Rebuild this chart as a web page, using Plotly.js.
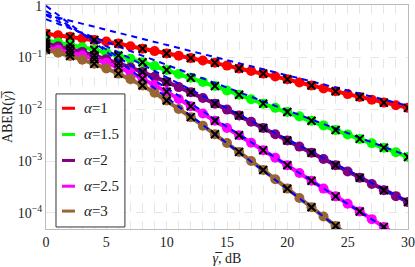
<!DOCTYPE html>
<html>
<head>
<meta charset="utf-8">
<script src="https://cdn.plot.ly/plotly-3.0.1.min.js"></script>
<style>html,body{margin:0;padding:0;background:#fff;}#chart{width:415px;height:267px;}</style>
</head>
<body>
<div id="chart"></div>
<script>
// SNR in dB
const snr = [0,1,2,3,4,5,6,7,8,9,10,11,12,13,14,15,16,17,18,19,20,21,22,23,24,25,26,27,28,29,30];
const snrEven = [0,2,4,6,8,10,12,14,16,18,20,22,24,26,28,30];
const snrAsym = [0,30];

const alphaLabels = ["1","1.5","2","2.5","3"];
const yTickVals = [0.0001, 0.001, 0.01, 0.1, 1];
const yTickText = ["10<sup>−4</sup>", "10<sup>−3</sup>", "10<sup>−2</sup>", "10<sup>−1</sup>", "1"];

const aber_a1 = [0.2884,0.2692,0.2512,0.2344,0.2188,0.2042,0.1862,0.1660,0.1479,0.1334,0.1202,0.1084,0.0977,0.0881,0.0794,0.0700,0.0617,0.0550,0.0490,0.0432,0.0380,0.0331,0.0288,0.0254,0.0224,0.0197,0.0174,0.0153,0.0135,0.0120,0.0107];
const aber_a15 = [0.2138,0.1950,0.1778,0.1585,0.1413,0.1245,0.1096,0.0944,0.0813,0.0684,0.0575,0.0484,0.0407,0.0339,0.0282,0.0232,0.0191,0.0157,0.0129,0.0107,0.00891,0.00733,0.00603,0.00490,0.00398,0.00327,0.00269,0.00221,0.00182,0.00148,0.00120];
const aber_a2 = [0.1862,0.1660,0.1479,0.1288,0.1096,0.0933,0.0776,0.0646,0.0525,0.0427,0.0339,0.0269,0.0214,0.0166,0.0129,0.00989,0.00759,0.00575,0.00437,0.00331,0.00251,0.00191,0.00145,0.00110,0.000832,0.000631,0.000479,0.000363,0.000275,0.000211,0.000162];
const aber_a25 = [0.1585,0.1413,0.1259,0.1096,0.0933,0.0794,0.0646,0.0513,0.0389,0.0295,0.0219,0.0158,0.0115,0.00832,0.00603,0.00437,0.00316,0.00226,0.00162,0.00116,0.000832,0.000589,0.000417,0.000295,0.000209,0.000150,0.000107,0.0000759,0.0000537,0.0000380,0.0000269];
const aber_a3 = [0.1413,0.1245,0.1072,0.0912,0.0759,0.0617,0.0490,0.0380,0.0288,0.0209,0.0148,0.0102,0.00708,0.00484,0.00331,0.00224,0.00151,0.00101,0.000676,0.000447,0.000295,0.000195,0.000129,0.0000851,0.0000562,0.0000372,0.0000245,0.0000162,0.0000107,0.00000708,0.00000468];

// asymptotic (high-SNR) approximations at 0 dB and 30 dB
const asym_a1 = [0.676, 0.01175];
const asym_a15 = [0.550, 0.00126];
const asym_a2 = [0.661, 0.000166];
const asym_a25 = [0.794, 0.0000269];
const asym_a3 = [1.0, 0.0000049];

const series = [aber_a1, aber_a15, aber_a2, aber_a25, aber_a3];
const asyms = [asym_a1, asym_a15, asym_a2, asym_a25, asym_a3];
const colors = ["#ff0000", "#00ff00", "#800080", "#ff00ff", "#996633"];

const traces = [];
series.forEach((s, i) => {
  traces.push({x: snr, y: s, mode: "lines+markers", showlegend: false,
    line: {color: colors[i], width: 4}, marker: {color: colors[i], size: 10, symbol: "circle"}});
});
asyms.forEach((a) => {
  traces.push({x: snrAsym, y: a, mode: "lines", showlegend: false,
    line: {color: "#0000ff", width: 2, dash: "6px,5px"}});
});
series.forEach((s) => {
  const ys = snrEven.map(v => s[snr.indexOf(v)]);
  traces.push({x: snrEven, y: ys, mode: "markers", showlegend: false,
    marker: {symbol: "x-thin", size: 8, line: {color: "#000", width: 2}}});
});

const serif = "Liberation Serif";

// legend box drawn in paper coordinates
const legX0 = 0.0276, legX1 = 0.218, legY0 = 0.009, legY1 = 0.603;
const legLineX0 = 0.0442, legLineX1 = 0.0801, legTextX = 0.0994;
const legRows = [0.539, 0.422, 0.306, 0.191, 0.080];

const shapes = [{type: "rect", xref: "paper", yref: "paper", x0: legX0, x1: legX1, y0: legY0, y1: legY1,
  line: {color: "#333", width: 1}, fillcolor: "#fff", layer: "above"}];
const annotations = [];
alphaLabels.forEach((lab, i) => {
  shapes.push({type: "line", xref: "paper", yref: "paper", x0: legLineX0, x1: legLineX1,
    y0: legRows[i], y1: legRows[i], line: {color: colors[i], width: 3}, layer: "above"});
  annotations.push({xref: "paper", yref: "paper", x: legTextX, y: legRows[i], xanchor: "left", yanchor: "middle",
    text: "<i>α</i>=" + lab, showarrow: false, font: {family: serif, size: 15, color: "#222"}});
});

const layout = {
  width: 415, height: 267,
  margin: {l: 46, r: 7, t: 5, b: 38},
  paper_bgcolor: "#fff", plot_bgcolor: "#fff",
  font: {family: serif, size: 13, color: "#222"},
  xaxis: {range: [0, 30], dtick: 5, tick0: 0, showline: true, mirror: true,
    linecolor: "#bbb", linewidth: 1, zeroline: false, ticklabeloverflow: "allow",
    showgrid: true, gridcolor: "#e6e6e6", griddash: "dash", gridwidth: 1,
    minor: {dtick: 1, showgrid: true, gridcolor: "#e6e6e6", griddash: "dash", gridwidth: 1},
    ticks: "", tickfont: {family: serif, size: 14, color: "#222"},
    title: {text: "<i>γ̅</i>, dB", font: {family: serif, size: 14, color: "#222"}, standoff: 4}},
  yaxis: {type: "log", range: [-4.31, 0.015], tickmode: "array", tickvals: yTickVals, ticktext: yTickText,
    showline: true, mirror: true, linecolor: "#bbb", linewidth: 1, zeroline: false, ticklabeloverflow: "allow",
    showgrid: true, gridcolor: "#e6e6e6", griddash: "dash", gridwidth: 1,
    ticks: "", tickfont: {family: serif, size: 14, color: "#222"},
    title: {text: "ABER(<i>γ̅</i>)", font: {family: serif, size: 14, color: "#222"}, standoff: 2}},
  shapes: shapes,
  annotations: annotations,
  showlegend: false
};

Plotly.newPlot("chart", traces, layout, {staticPlot: true, displayModeBar: false});
</script>
</body>
</html>
